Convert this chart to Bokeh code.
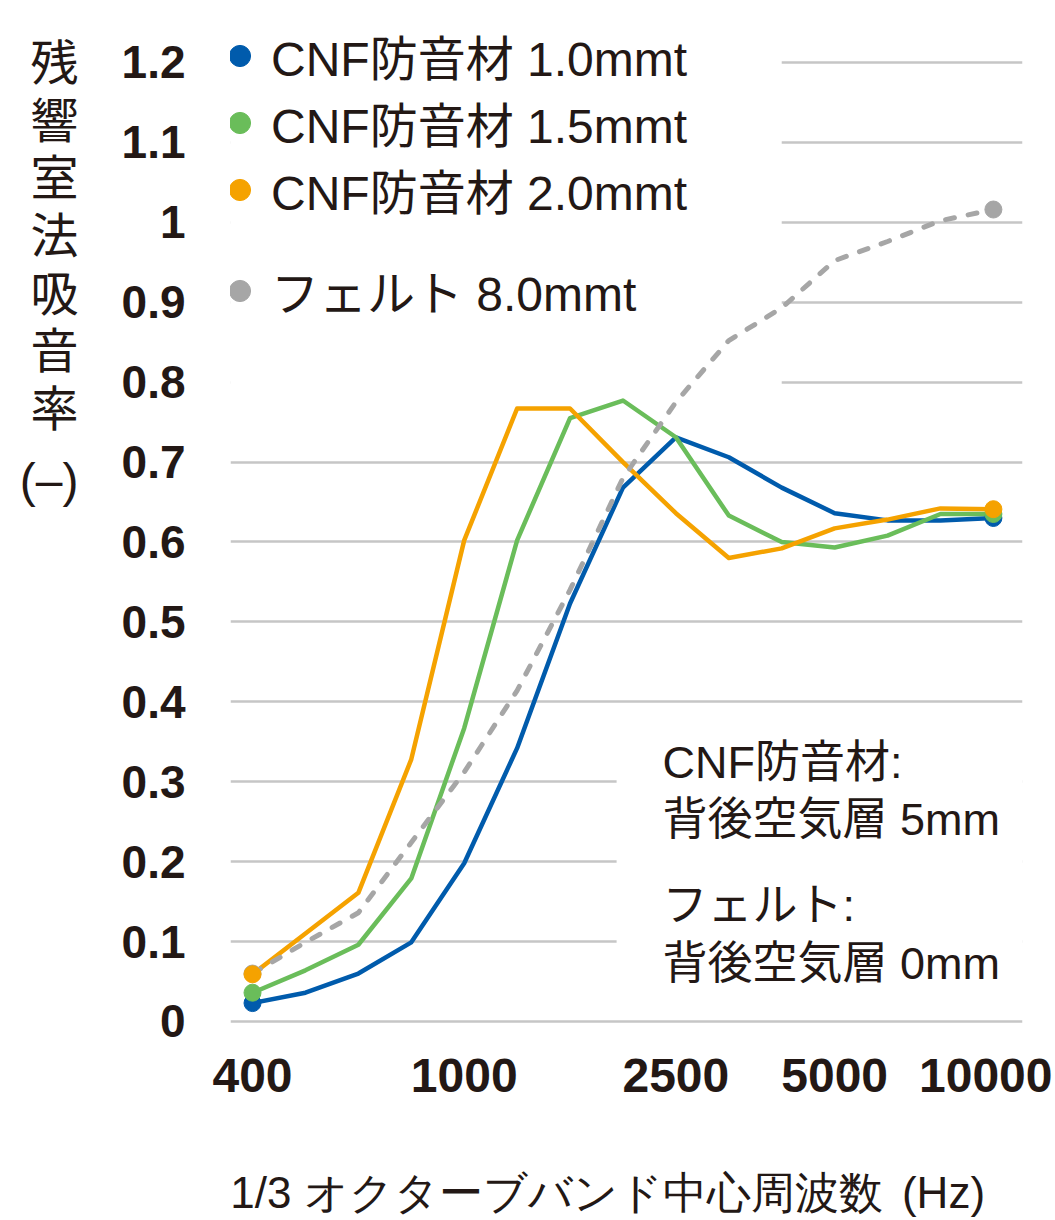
from bokeh.plotting import figure
from bokeh.models import (Range1d, FixedTicker, Legend, LegendItem, Label, BoxAnnotation, LinearAxis)
from bokeh.embed import file_html
from bokeh.resources import INLINE

# ---- data ----
freqs = [400, 500, 630, 800, 1000, 1250, 1600, 2000, 2500, 3150, 4000, 5000, 6300, 8000, 10000]
x_tick_freqs = [400, 1000, 2500, 5000, 10000]
y_ticks = [0, 0.1, 0.2, 0.3, 0.4, 0.5, 0.6, 0.7, 0.8, 0.9, 1.0, 1.1, 1.2]
y_tick_labels = ["0", "0.1", "0.2", "0.3", "0.4", "0.5", "0.6", "0.7", "0.8", "0.9", "1", "1.1", "1.2"]

cnf_10 = [0.023, 0.036, 0.060, 0.099, 0.198, 0.342, 0.523, 0.668, 0.731, 0.706, 0.668, 0.636, 0.627, 0.627, 0.630]
cnf_15 = [0.036, 0.064, 0.096, 0.179, 0.367, 0.602, 0.755, 0.777, 0.731, 0.633, 0.600, 0.593, 0.608, 0.635, 0.635]
cnf_20 = [0.059, 0.110, 0.161, 0.328, 0.602, 0.767, 0.767, 0.700, 0.636, 0.580, 0.592, 0.617, 0.628, 0.642, 0.641]
felt_80 = [0.060, 0.099, 0.136, 0.224, 0.312, 0.414, 0.540, 0.680, 0.775, 0.852, 0.893, 0.952, 0.976, 1.002, 1.016]

series_names = ["CNF防音材 1.0mmt", "CNF防音材 1.5mmt", "CNF防音材 2.0mmt", "フェルト 8.0mmt"]
colors = ["#005bac", "#6abd5a", "#f5a200", "#a6a6a6"]

note_lines = ["CNF防音材:", "背後空気層  5mm", "フェルト:", "背後空気層  0mm"]
y_title_parts = list("残響室法吸音率") + ["(–)"]
x_title_parts = ["1/3 オクターブバンド中心周波数", "(Hz)"]

TXT = "#231815"
MIX = "Liberation Sans, Noto Sans CJK JP"

xs = list(range(len(freqs)))

FL, FT, FW, FH = 230, 30, 792, 1000   # frame left/top/width/height (canvas px)
FB = FT + FH

p = figure(frame_width=FW, frame_height=FH,
           min_border_left=FL, min_border_right=30, min_border_top=FT, min_border_bottom=1220 - FB,
           x_range=Range1d(-0.416, 14.55), y_range=Range1d(-0.0113, 1.24),
           output_backend="svg", toolbar_location=None)
p.outline_line_color = None
p.background_fill_color = "white"
# pixel ranges used only to place the axis titles
p.extra_y_ranges = {"ttl": Range1d(0, FH)}
p.extra_x_ranges = {"px": Range1d(0, FW)}

# grid
p.xgrid.grid_line_color = None
p.ygrid.grid_line_color = "#c6c6c6"
p.ygrid.grid_line_width = 2.5
p.ygrid.ticker = FixedTicker(ticks=y_ticks)


def plain(ax):
    ax.axis_line_color = None
    ax.major_tick_line_color = None
    ax.minor_tick_line_color = None
    ax.major_tick_out = 0
    ax.major_tick_in = 0
    ax.minor_tick_out = 0
    ax.minor_tick_in = 0
    ax.major_label_text_color = TXT


# numeric axes
p.yaxis.ticker = FixedTicker(ticks=y_ticks)
p.yaxis.major_label_overrides = {t: l for t, l in zip(y_ticks, y_tick_labels)}
p.xaxis.ticker = FixedTicker(ticks=[freqs.index(f) for f in x_tick_freqs])
p.xaxis.major_label_overrides = {freqs.index(f): str(f) for f in x_tick_freqs}
for ax in (p.xaxis, p.yaxis):
    plain(ax)
    ax.major_label_text_font = "Liberation Sans"
    ax.major_label_text_font_style = "bold"
p.yaxis.major_label_text_font_size = "46px"
p.xaxis.major_label_text_font_size = "48px"
p.yaxis.major_label_standoff = 45
p.xaxis.major_label_standoff = 28

# y title: stacked characters as labels of an extra left axis
y_title_centers = [63, 121, 178, 236, 294, 351, 409, 480]
ttl_ticks = [FB - c for c in y_title_centers]
yt = LinearAxis(y_range_name="ttl", ticker=FixedTicker(ticks=ttl_ticks),
                major_label_overrides={t: s for t, s in zip(ttl_ticks, y_title_parts)},
                major_label_standoff=40, major_label_text_font=MIX,
                major_label_text_font_size="48px")
plain(yt)
p.add_layout(yt, "left")

# x title as labels of an extra bottom axis
x_title_centers = [556, 943]
xt_ticks = [c - FL for c in x_title_centers]
xt = LinearAxis(x_range_name="px", ticker=FixedTicker(ticks=xt_ticks),
                major_label_overrides={t: s for t, s in zip(xt_ticks, x_title_parts)},
                major_label_standoff=73, major_label_text_font="Liberation Sans",
                major_label_text_font_size="44px")
plain(xt)
p.add_layout(xt, "below")

# white boxes hiding gridlines behind legend and note
p.add_layout(BoxAnnotation(left=-1, right=freqs.index(4000), bottom=0.75, top=1.5,
                           fill_color="white", fill_alpha=1, line_alpha=0, level="underlay"))
p.add_layout(BoxAnnotation(left=6.88, right=16, bottom=0.05, top=0.36,
                           fill_color="white", fill_alpha=1, line_alpha=0, level="underlay"))

all_series = [cnf_10, cnf_15, cnf_20, felt_80]

# lines
for ys, c in zip(all_series, colors):
    if c == colors[3]:
        p.line(xs, ys, line_color=c, line_width=5, line_dash="9 14", line_cap="round")
    else:
        p.line(xs, ys, line_color=c, line_width=4.5, line_join="round")

# endpoint markers
markers = []
for ys, c in zip([felt_80, cnf_10, cnf_15, cnf_20], [colors[3], colors[0], colors[1], colors[2]]):
    r = p.scatter([xs[0], xs[-1]], [ys[0], ys[-1]], size=17, fill_color=c, line_color=c)
    markers.append(r)
m_felt, m10, m15, m20 = markers

# one legend per entry so each entry sits exactly where it does in the reference
leg_common = dict(glyph_width=53, glyph_height=53, label_height=53, spacing=0, padding=0, margin=0,
                  label_standoff=5, border_line_alpha=0, background_fill_alpha=0,
                  label_text_font=MIX, label_text_font_size="48px", label_text_color=TXT)
legend_centers = [56, 123, 190, 291]
for name, rend, cy in zip(series_names, [m10, m15, m20, m_felt], legend_centers):
    p.add_layout(Legend(items=[LegendItem(label=name, renderers=[rend])],
                        location=(-17, FB - cy - 34), **leg_common))

# note inside the plot area
for txt, py in zip(note_lines, [762, 819, 905, 963]):
    p.add_layout(Label(x=432, y=FB - py, x_units="screen", y_units="screen",
                       text=txt, text_font=MIX, text_font_size="45px", text_color=TXT,
                       text_align="left", text_baseline="middle"))

open("out.html", "w").write(file_html(p, INLINE))
